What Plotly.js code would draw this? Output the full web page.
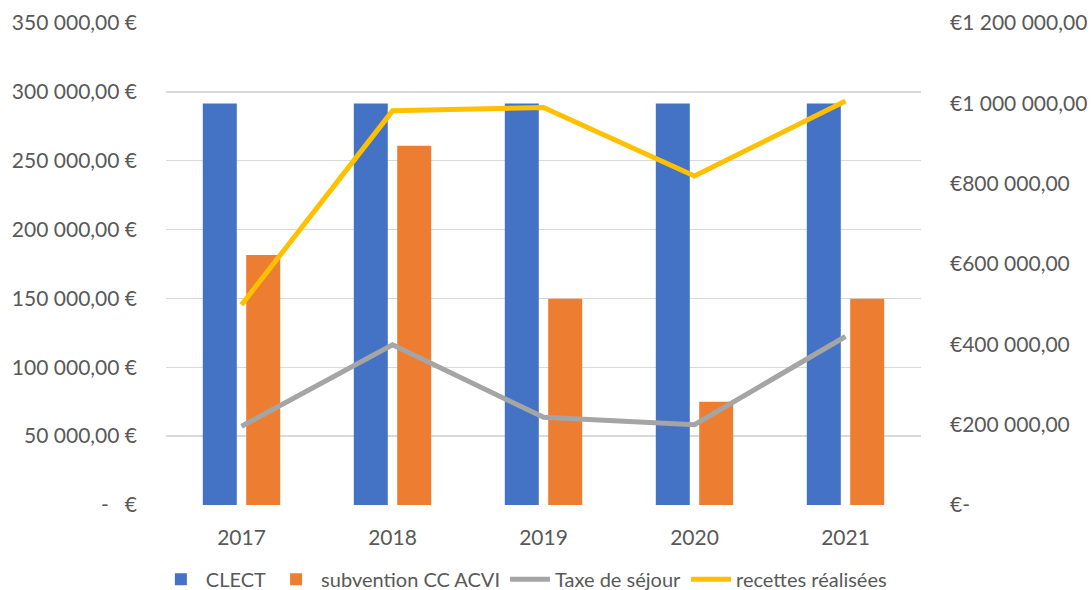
<!DOCTYPE html>
<html>
<head>
<meta charset="utf-8">
<script src="https://cdn.plot.ly/plotly-3.0.1.min.js"></script>
<style>
  html, body { margin: 0; padding: 0; background: #fff; }
  #plot { width: 1091px; height: 590px; }
</style>
</head>
<body>
<div id="plot"></div>
<script>
  // données
  const annees = ['2017', '2018', '2019', '2020', '2021'];
  const clect = [291600, 291600, 291600, 291600, 291600];
  const subventionAcvi = [181600, 260900, 149800, 74900, 149800];
  const taxeSejour = [195900, 399000, 218200, 200100, 419500];
  const recettes = [498300, 981300, 989700, 819000, 1006000];

  const gaucheVals = [0, 50000, 100000, 150000, 200000, 250000, 300000, 350000];
  const gaucheTextes = ['-   €', '50 000,00 €', '100 000,00 €', '150 000,00 €', '200 000,00 €', '250 000,00 €', '300 000,00 €', '350 000,00 €'];
  const droiteVals = [0, 200000, 400000, 600000, 800000, 1000000, 1200000];
  const droiteTextes = ['€-', '€200 000,00', '€400 000,00', '€600 000,00', '€800 000,00', '€1 000 000,00', '€1 200 000,00'];

  const police = { family: 'Lato, "Open Sans", sans-serif', size: 21, color: '#595959' };
  const policeLegende = { family: 'Lato, "Open Sans", sans-serif', size: 20, color: '#595959' };

  const data = [
    { x: annees, y: clect, type: 'bar', name: 'CLECT', marker: { color: '#4472C4' } },
    { x: annees, y: subventionAcvi, type: 'bar', name: 'subvention CC ACVI', marker: { color: '#ED7D31' } },
    { x: annees, y: taxeSejour, type: 'scatter', mode: 'lines', name: 'Taxe de séjour', yaxis: 'y2',
      line: { color: '#A5A5A5', width: 5 } },
    { x: annees, y: recettes, type: 'scatter', mode: 'lines', name: 'recettes réalisées', yaxis: 'y2',
      line: { color: '#FFC000', width: 5 } }
  ];

  const layout = {
    width: 1091, height: 590,
    margin: { l: 166, r: 170, t: 23, b: 84.5, pad: 0, autoexpand: false },
    paper_bgcolor: '#fff', plot_bgcolor: '#fff',
    font: police,
    barmode: 'group', bargap: 0.425, bargroupgap: 0.217,
    showlegend: true,
    legend: { orientation: 'h', x: 0.474, xanchor: 'center', y: -0.154, yanchor: 'middle',
      font: policeLegende, itemwidth: 40, traceorder: 'normal' },
    xaxis: { type: 'category', showgrid: false, zeroline: false, showline: false,
      ticks: '', ticklabelstandoff: 18, tickfont: police },
    yaxis: { range: [0, 350000], tickvals: gaucheVals, ticktext: gaucheTextes,
      showgrid: true, gridcolor: '#D9D9D9', gridwidth: 1.5, zeroline: false, showline: false,
      ticks: '', ticklabelstandoff: 28, tickfont: police },
    yaxis2: { range: [0, 1200000], tickvals: droiteVals, ticktext: droiteTextes, overlaying: 'y', side: 'right',
      showgrid: false, zeroline: false, showline: false,
      ticks: '', ticklabelstandoff: 28, tickfont: police }
  };

  Plotly.newPlot('plot', data, layout, { displayModeBar: false, staticPlot: true });
</script>
</body>
</html>
